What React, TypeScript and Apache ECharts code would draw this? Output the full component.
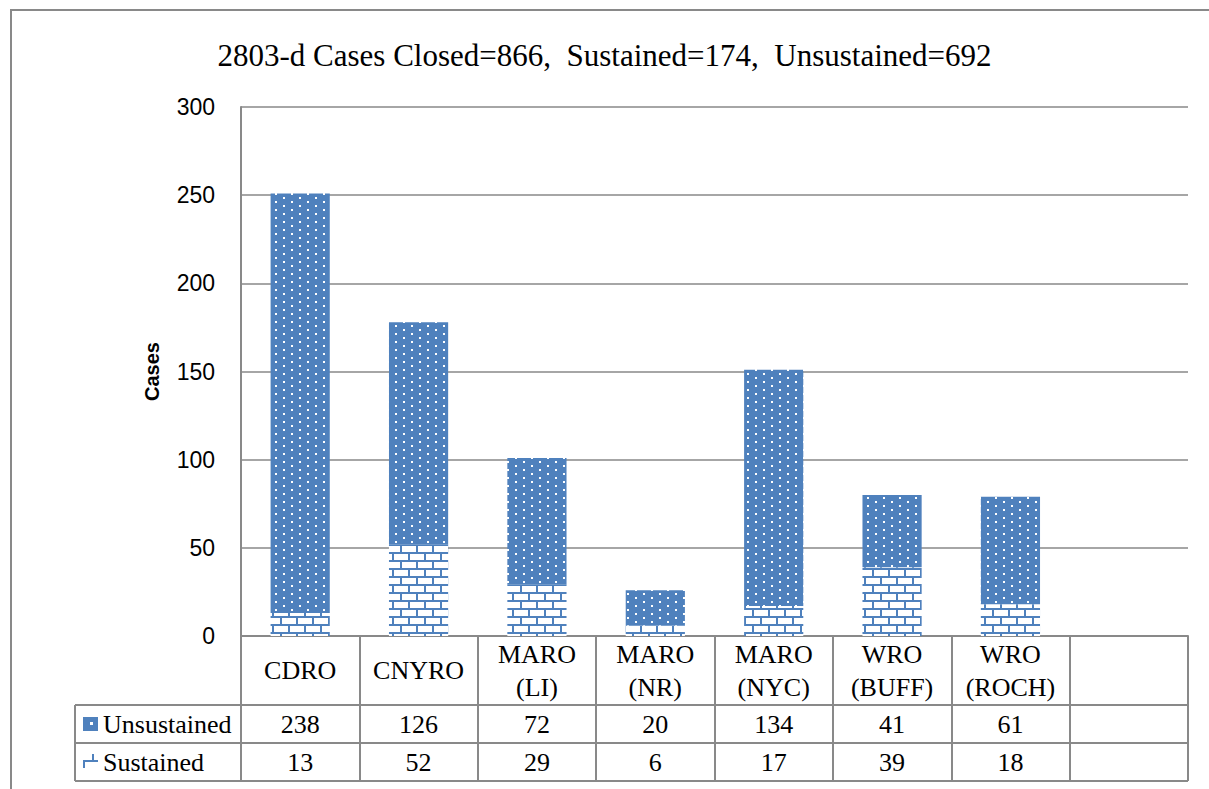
import React, { useEffect, useRef } from 'react';
import * as echarts from 'echarts';

const categories = ['CDRO', 'CNYRO', 'MARO\n(LI)', 'MARO\n(NR)', 'MARO\n(NYC)', 'WRO\n(BUFF)', 'WRO\n(ROCH)', ''];
const unsustained = [238, 126, 72, 20, 134, 41, 61];
const sustained = [13, 52, 29, 6, 17, 39, 18];
const seriesNames = ['Unsustained', 'Sustained'];
const titleText = '2803-d Cases Closed=866,  Sustained=174,  Unsustained=692';
const yAxisName = 'Cases';
const yMax = 300;
const yInterval = 50;

const BLUE = '#4F81BD';
const GRAY = '#898989';
const W = 1209;
const H = 789;
const GRID_L = 241;
const GRID_R = 1188;
const GRID_T = 107;
const GRID_B = 636;
const ROW1 = 705;
const ROW2 = 743;
const ROW3 = 781;
const TABLE_L = 75;

function makeDots() {
  const c = document.createElement('canvas');
  c.width = 16; c.height = 8;
  const g = c.getContext('2d')!;
  g.fillStyle = BLUE; g.fillRect(0, 0, 16, 8);
  g.fillStyle = '#ffffff';
  g.fillRect(3, 1, 2, 2);
  g.fillRect(11, 5, 2, 2);
  return c;
}

function makeBricks() {
  const c = document.createElement('canvas');
  c.width = 16; c.height = 16;
  const g = c.getContext('2d')!;
  g.fillStyle = '#ffffff'; g.fillRect(0, 0, 16, 16);
  g.fillStyle = BLUE;
  g.fillRect(0, 0, 16, 2);
  g.fillRect(0, 8, 16, 2);
  g.fillRect(0, 2, 2, 6);
  g.fillRect(8, 10, 2, 6);
  return c;
}

export default function App() {
  const ref = useRef<HTMLDivElement>(null);
  useEffect(() => {
    document.body.style.margin = '0';
    const chart = echarts.init(ref.current!, null, { renderer: 'svg' });
    const dots = makeDots();
    const bricks = makeBricks();
    const slot = (GRID_R - GRID_L) / categories.length;
    const serif = 'Liberation Serif, Times New Roman, serif';
    const cellFont = 26;

    const graphics: any[] = [];
    graphics.push({ type: 'rect', shape: { x: 11, y: 10, width: 1400, height: 1000 }, style: { fill: 'none', stroke: GRAY, lineWidth: 2 }, silent: true });
    [ROW1, ROW2, ROW3].forEach((y) => {
      graphics.push({ type: 'line', shape: { x1: TABLE_L, y1: y, x2: GRID_R, y2: y }, style: { stroke: GRAY, lineWidth: 2 } });
    });
    graphics.push({ type: 'line', shape: { x1: TABLE_L, y1: ROW1, x2: TABLE_L, y2: ROW3 }, style: { stroke: GRAY, lineWidth: 2 } });
    const rows = [unsustained, sustained];
    const rowY = [(ROW1 + ROW2) / 2, (ROW2 + ROW3) / 2];
    rows.forEach((arr, r) => {
      graphics.push({ type: 'text', x: 103, y: rowY[r], style: { text: seriesNames[r], font: `${cellFont}px ${serif}`, fill: '#000', textAlign: 'left', textVerticalAlign: 'middle' } });
      arr.forEach((v, i) => {
        graphics.push({ type: 'text', x: GRID_L + (i + 0.5) * slot, y: rowY[r], style: { text: String(v), font: `${cellFont}px ${serif}`, fill: '#000', textAlign: 'center', textVerticalAlign: 'middle' } });
      });
    });
    graphics.push({ type: 'rect', shape: { x: 83, y: 717, width: 15, height: 14 }, style: { fill: BLUE } });
    graphics.push({ type: 'rect', shape: { x: 90, y: 722, width: 3, height: 3 }, style: { fill: '#fff' } });
    graphics.push({ type: 'line', shape: { x1: 83, y1: 761, x2: 98, y2: 761 }, style: { stroke: BLUE, lineWidth: 2 } });
    graphics.push({ type: 'line', shape: { x1: 93, y1: 754, x2: 93, y2: 761 }, style: { stroke: BLUE, lineWidth: 2 } });
    graphics.push({ type: 'line', shape: { x1: 84, y1: 761, x2: 84, y2: 768 }, style: { stroke: BLUE, lineWidth: 2 } });

    chart.setOption({
      animation: false,
      backgroundColor: '#fff',
      title: {
        text: titleText,
        left: 'center',
        top: 35,
        textStyle: { fontFamily: serif, fontSize: 31, fontWeight: 'normal', color: '#000' },
      },
      grid: { left: GRID_L, right: W - GRID_R, top: GRID_T, bottom: H - GRID_B, containLabel: false },
      xAxis: {
        type: 'category',
        data: categories,
        axisLine: { show: true, lineStyle: { color: GRAY, width: 2 } },
        axisTick: { show: true, interval: 0, length: ROW3 - GRID_B, alignWithLabel: false, lineStyle: { color: GRAY, width: 2 } },
        axisLabel: {
          interval: 0,
          margin: (ROW1 - GRID_B) / 2,
          verticalAlign: 'middle',
          fontFamily: serif,
          fontSize: cellFont,
          lineHeight: 33,
          color: '#000',
        },
      },
      yAxis: {
        type: 'value',
        min: 0,
        max: yMax,
        interval: yInterval,
        name: yAxisName,
        nameLocation: 'middle',
        nameGap: 79,
        nameTextStyle: { fontFamily: 'Liberation Sans, Arial, sans-serif', fontSize: 20, fontWeight: 'bold', color: '#000' },
        axisLine: { show: true, lineStyle: { color: GRAY, width: 2 } },
        axisTick: { show: false },
        splitLine: { lineStyle: { color: GRAY, width: 1.5 } },
        axisLabel: { fontFamily: 'Liberation Sans, Arial, sans-serif', fontSize: 23, color: '#000', margin: 26 },
      },
      series: [
        {
          name: 'Sustained',
          type: 'bar',
          stack: 'total',
          barWidth: '50%',
          data: sustained,
          itemStyle: { color: { image: bricks, repeat: 'repeat', imageWidth: 16, imageHeight: 16 } },
        },
        {
          name: 'Unsustained',
          type: 'bar',
          stack: 'total',
          barWidth: '50%',
          data: unsustained,
          itemStyle: { color: { image: dots, repeat: 'repeat', imageWidth: 16, imageHeight: 8 } },
        },
      ],
      graphic: graphics,
    });
    return () => chart.dispose();
  }, []);
  return <div ref={ref} style={{ position: 'absolute', left: 0, top: 0, width: W, height: H }} />;
}
